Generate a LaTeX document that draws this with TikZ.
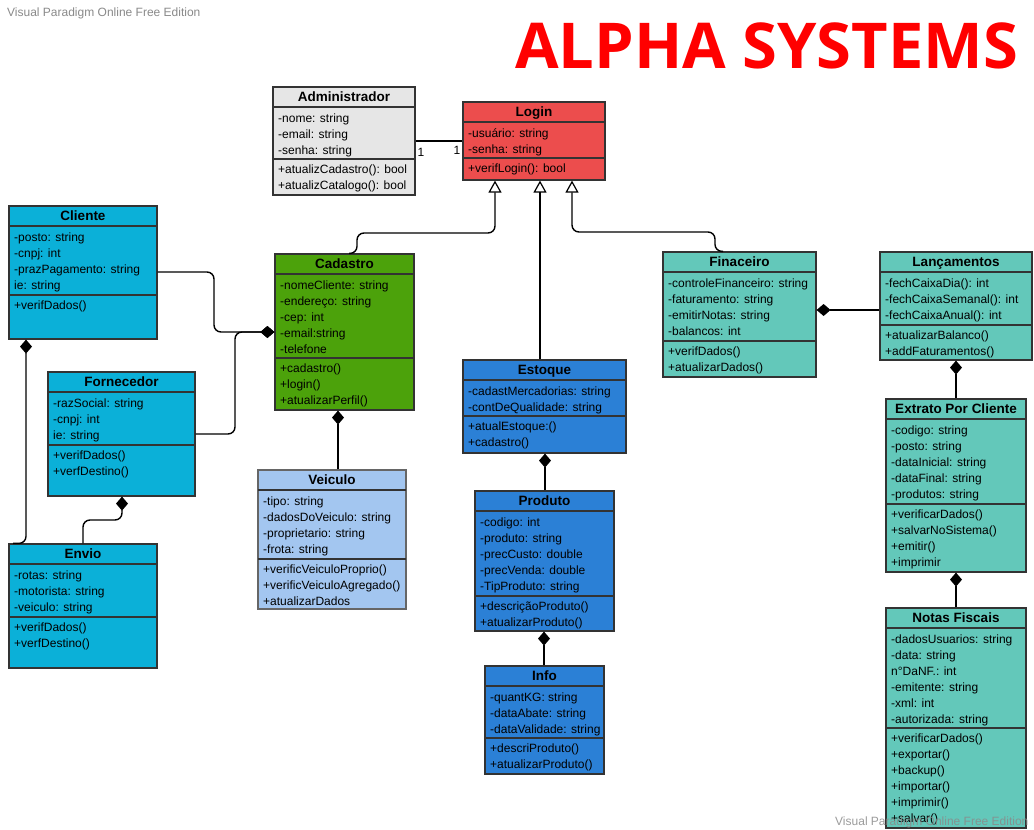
\documentclass[tikz,border=0pt]{standalone}
\usepackage{fontspec}
\setmainfont{Liberation Sans}
\newfontfamily\titlefont{Open Sans}
\usetikzlibrary{arrows.meta,fit,calc}
\definecolor{admfill}{HTML}{E6E6E6}
\definecolor{loginfill}{HTML}{EC4D4D}
\definecolor{cyanfill}{HTML}{0BB0D8}
\definecolor{greenfill}{HTML}{4CA20B}
\definecolor{lightblue}{HTML}{A3C6F0}
\definecolor{bluefill}{HTML}{2B80D6}
\definecolor{tealfill}{HTML}{63C8BA}
\definecolor{bordergray}{HTML}{333333}
\definecolor{wmgray}{HTML}{8A8A8A}
\definecolor{titlered}{HTML}{FF0000}
\tikzset{
  classbox/.style={draw=bordergray,line width=1.2pt,inner sep=0pt},
  sepline/.style={draw=bordergray,line width=1.1pt},
  titletext/.style={anchor=base,inner sep=0pt,font=\fontsize{13.5}{16}\selectfont\bfseries},
  membertext/.style={anchor=base west,inner sep=0pt,font=\fontsize{12}{16}\selectfont},
  conn/.style={line width=1.4pt,rounded corners=7pt},
  inh/.style={conn,-{Triangle[open,length=12pt,width=13pt,line width=1.2pt]}},
  comp/.style={conn,-{Diamond[length=14pt,width=12pt]}},
  mult/.style={inner sep=0pt,font=\fontsize{12}{14}\selectfont},
  watermark/.style={inner sep=0pt,anchor=base west,text=wmgray,font=\fontsize{12}{14}\selectfont}
}
\newcommand\umlbox[7]{%
  \def\ubname{#1}\def\ubxa{#3}\def\ubya{#4}\def\ubsep{#7}%
  \node[classbox,#2,fit={(#3,#4) (#5,#6)}] (#1) {};
  \draw[sepline] (#3,#4+20) -- (#5,#4+20);
  \draw[sepline] (#3,#7) -- (#5,#7);
}
\newcommand\umltext[3]{%
  \node[titletext] (\ubname-title) at ([yshift=-15pt]\ubname.north) {#1};
  \node[membertext] (\ubname-attrs) at (\ubxa+5,\ubya+35.5) {\parbox[t]{300pt}{#2}};
  \node[membertext] (\ubname-ops) at (\ubxa+5,\ubsep+14) {\parbox[t]{300pt}{#3}};
}
\begin{document}
\begin{tikzpicture}[x=1pt,y=-1pt]
\useasboundingbox (0,0) rectangle (1034,830);
\fill[white] (0,0) rectangle (1034,830);

% title
\node[inner sep=0pt,anchor=base west,text=titlered,font=\titlefont\bfseries\fontsize{64}{70}\selectfont] (title) at (515,68.5) {\resizebox{503pt}{!}{ALPHA SYSTEMS}};

\umlbox{Administrador}{fill=admfill}{273}{87}{415}{195}{159}
\umltext{Administrador}{-nome: string\\-email: string\\-senha: string}{+atualizCadastro(): bool\\+atualizCatalogo(): bool}

\umlbox{Login}{fill=loginfill}{463}{102}{605}{180}{158}
\umltext{Login}{-usuário: string\\-senha: string}{+verifLogin(): bool}

\umlbox{Cliente}{fill=cyanfill}{9}{206}{157}{339}{295}
\umltext{Cliente}{-posto: string\\-cnpj: int\\-prazPagamento: string\\ie: string}{+verifDados()}

\umlbox{Cadastro}{fill=greenfill}{275}{254}{414}{410}{358}
\umltext{Cadastro}{-nomeCliente: string\\-endereço: string\\-cep: int\\-email:string\\-telefone}{+cadastro()\\+login()\\+atualizarPerfil()}

\umlbox{Fornecedor}{fill=cyanfill}{48}{372}{195}{496}{445}
\umltext{Fornecedor}{-razSocial: string\\-cnpj: int\\ie: string}{+verifDados()\\+verfDestino()}

\umlbox{Envio}{fill=cyanfill}{9}{544}{157}{668}{617}
\umltext{Envio}{-rotas: string\\-motorista: string\\-veiculo: string}{+verifDados()\\+verfDestino()}

\umlbox{Veiculo}{fill=lightblue,draw=gray!80!black}{258}{470}{406}{609}{559}
\umltext{Veiculo}{-tipo: string\\-dadosDoVeiculo: string\\-proprietario: string\\-frota: string}{+verificVeiculoProprio()\\+verificVeiculoAgregado()\\+atualizarDados}

\umlbox{Estoque}{fill=bluefill}{463}{360}{626}{453}{416}
\umltext{Estoque}{-cadastMercadorias: string\\-contDeQualidade: string}{+atualEstoque:()\\+cadastro()}

\umlbox{Produto}{fill=bluefill}{475}{491}{614}{631}{596}
\umltext{Produto}{-codigo: int\\-produto: string\\-precCusto: double\\-precVenda: double\\-TipProduto: string}{+descriçãoProduto()\\+atualizarProduto()}

\umlbox{Info}{fill=bluefill}{485}{666}{604}{774}{738}
\umltext{Info}{-quantKG: string\\-dataAbate: string\\-dataValidade: string}{+descriProduto()\\+atualizarProduto()}

\umlbox{Finaceiro}{fill=tealfill}{663}{252}{816}{377}{341}
\umltext{Finaceiro}{-controleFinanceiro: string\\-faturamento: string\\-emitirNotas: string\\-balancos: int}{+verifDados()\\+atualizarDados()}

\umlbox{Lancamentos}{fill=tealfill}{880}{252}{1032}{360}{325}
\umltext{Lançamentos}{-fechCaixaDia(): int\\-fechCaixaSemanal(): int\\-fechCaixaAnual(): int}{+atualizarBalanco()\\+addFaturamentos()}

\umlbox{Extrato}{fill=tealfill}{886}{399}{1026}{572}{504}
\umltext{Extrato Por Cliente}{-codigo: string\\-posto: string\\-dataInicial: string\\-dataFinal: string\\-produtos: string}{+verificarDados()\\+salvarNoSistema()\\+emitir()\\+imprimir}

\umlbox{Notas}{fill=tealfill}{886}{608}{1026}{828}{728}
\umltext{Notas Fiscais}{-dadosUsuarios: string\\-data: string\\n°DaNF.: int\\-emitente: string\\-xml: int\\-autorizada: string}{+verificarDados()\\+exportar()\\+backup()\\+importar()\\+imprimir()\\+salvar()}

% association Administrador - Login
\draw[conn] (Administrador.east |- 0,141) -- (Login.west |- 0,141);
\node[mult] (m1) at (421,152) {1};
\node[mult] (m2) at (457,150) {1};

% inheritance to Login
\draw[inh] (349,0 |- Cadastro.north) -- (357,0 |- Cadastro.north) -- (357,233) -- (495,233) -- (495,0 |- Login.south);
\draw[inh] (540,0 |- Estoque.north) -- (540,0 |- Login.south);
\draw[inh] (723,0 |- Finaceiro.north) -- (715,0 |- Finaceiro.north) -- (715,232) -- (572,232) -- (572,0 |- Login.south);

% compositions
\draw[comp] (Cliente.east |- 0,272) -- (214,272) -- (214,332) -- (Cadastro.west |- 0,332);
\draw[comp] (Fornecedor.east |- 0,434) -- (235,434) -- (235,332) -- (Cadastro.west |- 0,332);
\draw[comp] (13,0 |- Envio.north) -- (26,0 |- Envio.north) -- (26,0 |- Cliente.south);
\draw[comp] (83,0 |- Envio.north) -- (83,520) -- (122,520) -- (122,0 |- Fornecedor.south);
\draw[comp] (338,0 |- Veiculo.north) -- (338,0 |- Cadastro.south);
\draw[comp] (545,0 |- Produto.north) -- (545,0 |- Estoque.south);
\draw[comp] (544,0 |- Info.north) -- (544,0 |- Produto.south);
\draw[comp] (Lancamentos.west |- 0,310) -- (Finaceiro.east |- 0,310);
\draw[comp] (956,0 |- Extrato.north) -- (956,0 |- Lancamentos.south);
\draw[comp] (956,0 |- Notas.north) -- (956,0 |- Extrato.south);

% watermarks
\node[watermark] (wm1) at (7,16) {Visual Paradigm Online Free Edition};
\node[watermark,opacity=0.85] (wm2) at (835,825) {Visual Paradigm Online Free Edition};
\end{tikzpicture}
\end{document}
